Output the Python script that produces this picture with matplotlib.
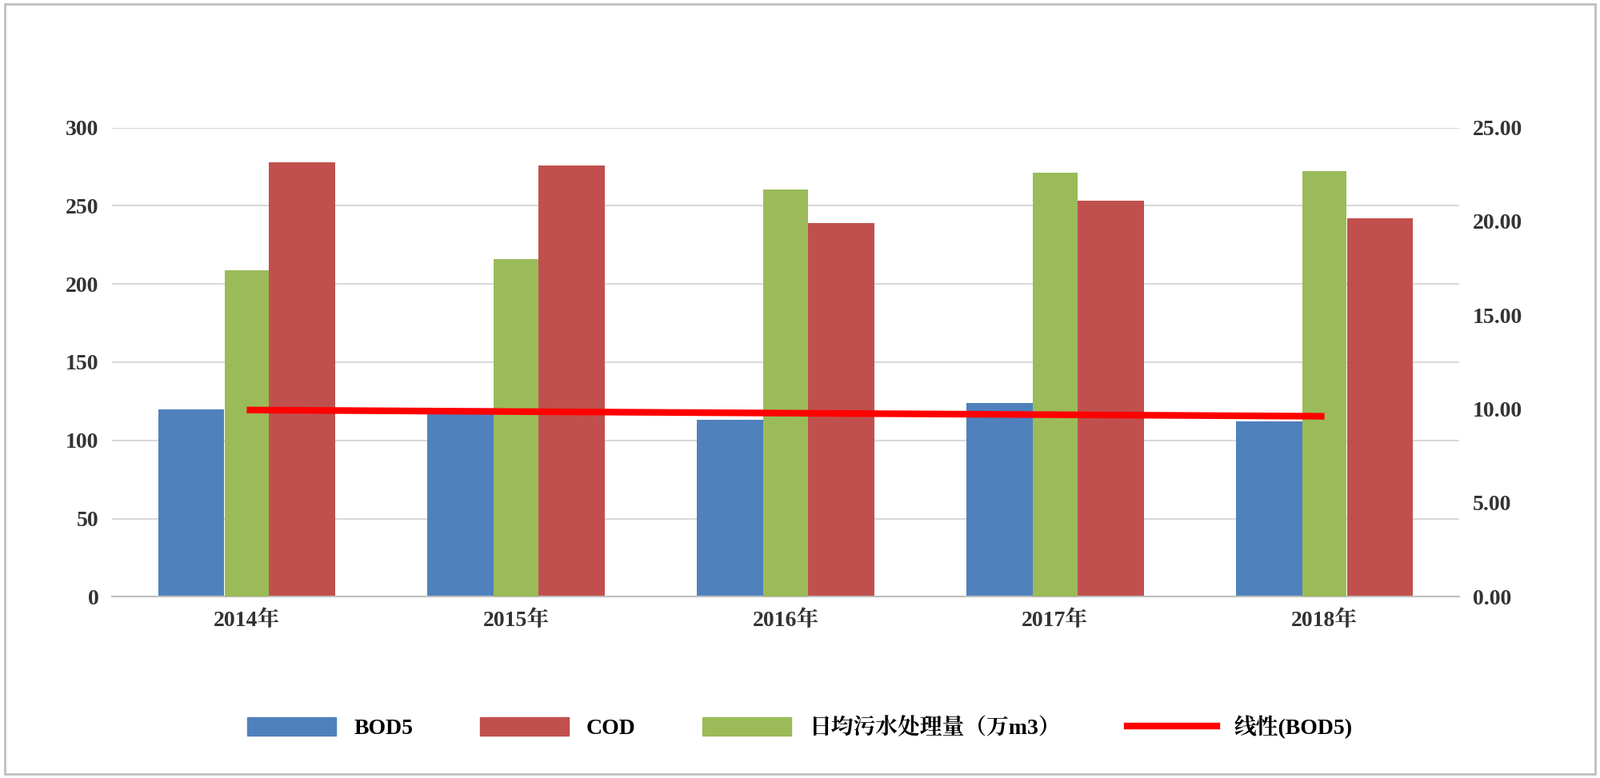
import matplotlib.pyplot as plt
from matplotlib import font_manager
from matplotlib.patches import Patch
from matplotlib.lines import Line2D
import numpy as np

cjk = [f.name for f in font_manager.fontManager.ttflist if "CJK" in f.name]
cjk_name = "Noto Sans CJK SC" if "Noto Sans CJK SC" in cjk else (cjk[0] if cjk else "DejaVu Sans")
plt.rcParams["font.family"] = ["Liberation Serif", cjk_name]

years = ["2014年", "2015年", "2016年", "2017年", "2018年"]
bod5 = [120, 118, 113, 124, 112]
cod = [278, 276, 239, 253, 242]
daily = [17.4, 18.0, 21.7, 22.6, 22.7]  # 日均污水处理量（万m3）

fig = plt.figure(figsize=(20, 9.73), dpi=100)
ax = fig.add_axes([0.07, 0.233, 0.842, 0.603])
ax2 = ax.twinx()

x = np.arange(len(years))
ax.bar(x - 0.206, bod5, width=0.246, color="#4f81bd", zorder=2)
ax.bar(x + 0.206, cod, width=0.246, color="#c0504d", zorder=2)
ax2.bar(x, daily, width=0.165, color="#9bbb59", zorder=2)

k, b = np.polyfit(x, bod5, 1)
ax2.plot(x, (k * x + b) / 12, color="#ff0000", lw=6, solid_capstyle="butt", zorder=5)

ax.set_ylim(0, 300)
ax2.set_ylim(0, 25)
ax.set_yticks(range(0, 301, 50))
ax2.set_yticks(np.arange(0, 25.1, 5))
ax2.set_yticklabels([f"{v:.2f}" for v in np.arange(0, 25.1, 5)])
ax.set_xlim(-0.5, 4.5)
ax.set_xticks(x)
ax.set_xticklabels(years)
ax.yaxis.grid(True, color="#d9d9d9", lw=1.5, zorder=0)
ax.set_axisbelow(True)
for a in (ax, ax2):
    for s in a.spines.values():
        s.set_visible(False)
    a.tick_params(length=0, labelsize=20, colors="#333333", pad=12)
    for t in a.get_xticklabels() + a.get_yticklabels():
        t.set_fontweight("bold")
ax.spines["bottom"].set_visible(True)
ax.spines["bottom"].set_color("#bfbfbf")
ax.spines["bottom"].set_linewidth(1.5)

handles = [Patch(color="#4f81bd"), Patch(color="#c0504d"), Patch(color="#9bbb59"),
           Line2D([], [], color="#ff0000", lw=6)]
labels = ["BOD5", "COD", "日均污水处理量（万m3）", "线性(BOD5)"]
fig.legend(handles, labels, loc="center", bbox_to_anchor=(0.5, 0.065), ncol=4,
           frameon=False, prop={"family": ["Liberation Serif", cjk_name], "size": 20, "weight": "bold"},
           handlelength=4, handleheight=0.9, columnspacing=3)

fig.patches.append(plt.Rectangle((0.003, 0.005), 0.994, 0.99, transform=fig.transFigure,
                                 fill=False, ec="#bfbfbf", lw=2))
fig.savefig("out.png", dpi=100)
